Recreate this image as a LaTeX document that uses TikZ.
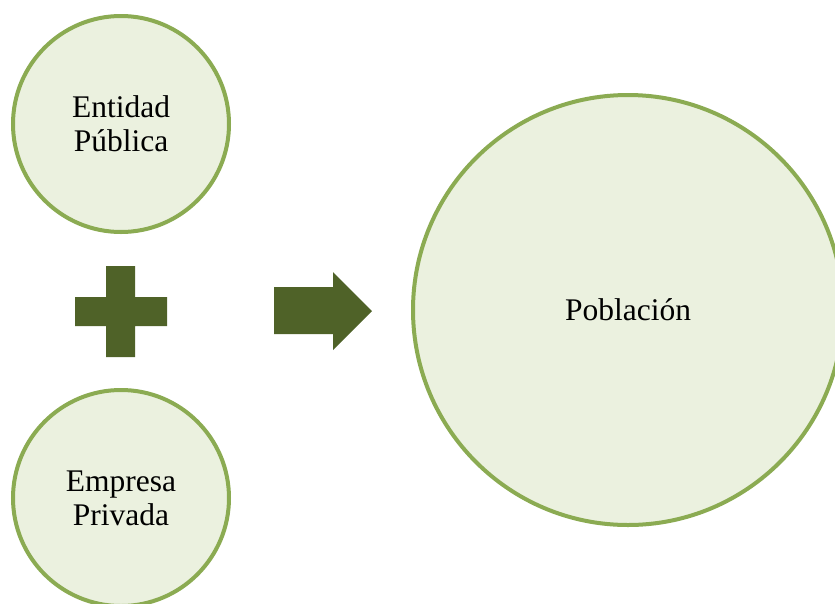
\documentclass[tikz,border=0pt]{standalone}
\usepackage{fontspec}
\setmainfont{Liberation Serif}
\definecolor{ringgreen}{HTML}{8BAB52}
\definecolor{fillgreen}{HTML}{EBF1DF}
\definecolor{darkgreen}{HTML}{4F6228}
\begin{document}
\begin{tikzpicture}[x=1pt,y=-1pt,
  bubble/.style={circle,draw=ringgreen,fill=fillgreen,line width=4pt,inner sep=0pt,align=center,
    font=\fontsize{31.5}{34}\selectfont},
  sign/.style={fill=darkgreen,draw=none}]
\useasboundingbox (0,0) rectangle (835,603);
\node[bubble,minimum size=216pt] (ent) at (121,124) {Entidad\\Pública};
\node[bubble,minimum size=216pt] (emp) at (121,498) {Empresa\\Privada};
\node[bubble,minimum size=430pt] (pob) at (628,310) {Población};
% plus sign
\fill[sign] (106,266) -- (135,266) -- (135,297) -- (167,297) -- (167,326) -- (135,326)
  -- (135,357) -- (106,357) -- (106,326) -- (75,326) -- (75,297) -- (106,297) -- cycle;
% arrow
\fill[sign] (274,287) -- (333,287) -- (333,272) -- (372,311) -- (333,350) -- (333,334)
  -- (274,334) -- cycle;
\end{tikzpicture}
\end{document}
